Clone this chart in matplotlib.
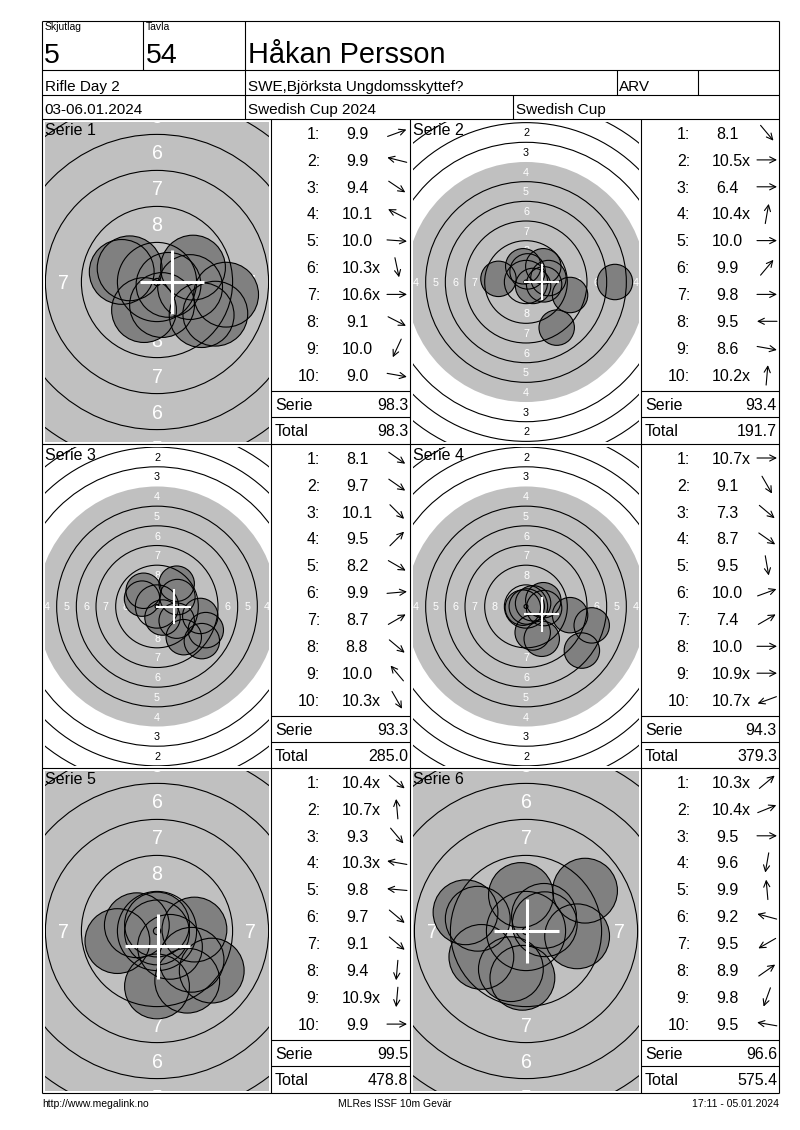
import matplotlib
matplotlib.use('Agg')
import matplotlib.pyplot as plt
from matplotlib.patches import Circle
import numpy as np

plt.rcParams['font.family'] = ['Liberation Sans', 'DejaVu Sans']

# ---------------- data ----------------
relay_label, relay = "Skjutlag", "5"
target_label, target_no = "Tavla", "54"
shooter = "Håkan Persson"
event = "Rifle Day 2"
club = "SWE,Björksta Ungdomsskyttef?"
shooter_class = "ARV"
dates = "03-06.01.2024"
competition = "Swedish Cup 2024"
cup = "Swedish Cup"
footer_left = "http://www.megalink.no"
footer_mid = "MLRes ISSF 10m Gevär"
footer_right = "17:11 - 05.01.2024"

series_names = ["Serie 1", "Serie 2", "Serie 3", "Serie 4", "Serie 5", "Serie 6"]

s1_scores = [9.9, 9.9, 9.4, 10.1, 10.0, 10.3, 10.6, 9.1, 10.0, 9.0]
s2_scores = [8.1, 10.5, 6.4, 10.4, 10.0, 9.9, 9.8, 9.5, 8.6, 10.2]
s3_scores = [8.1, 9.7, 10.1, 9.5, 8.2, 9.9, 8.7, 8.8, 10.0, 10.3]
s4_scores = [10.7, 9.1, 7.3, 8.7, 9.5, 10.0, 7.4, 10.0, 10.9, 10.7]
s5_scores = [10.4, 10.7, 9.3, 10.3, 9.8, 9.7, 9.1, 9.4, 10.9, 9.9]
s6_scores = [10.3, 10.4, 9.5, 9.6, 9.9, 9.2, 9.5, 8.9, 9.8, 9.5]

s1_inner = [0, 0, 0, 0, 0, 1, 1, 0, 0, 0]
s2_inner = [0, 1, 0, 1, 0, 0, 0, 0, 0, 1]
s3_inner = [0, 0, 0, 0, 0, 0, 0, 0, 0, 1]
s4_inner = [1, 0, 0, 0, 0, 0, 0, 0, 1, 1]
s5_inner = [1, 1, 0, 1, 0, 0, 0, 0, 1, 0]
s6_inner = [1, 1, 0, 0, 0, 0, 0, 0, 0, 0]

# direction arrows (degrees, counter-clockwise from right)
s1_dir = [20, 166, -34, 153, -4, -78, 0, -27, -115, -10]
s2_dir = [-50, 0, 0, 80, 0, 50, 0, 180, -10, 85]
s3_dir = [-35, -35, -45, 45, -30, 5, 30, -40, 130, -60]
s4_dir = [0, -60, -40, -35, -80, 20, 30, 0, 0, -160]
s5_dir = [-40, 95, -50, 170, 175, -40, -40, -95, -95, 0]
s6_dir = [40, 22, 0, -100, 95, 165, -150, 35, -110, 170]

# shot positions on the target (mm, y up)
s1_x = [2.5, -2.45, 3.1, -1.9, 2.3, 0.35, 0.8, 4.05, -0.9, 4.8]
s1_y = [1.0, 0.7, -2.3, 0.95, -0.35, -1.6, -0.2, -2.2, -1.95, -0.88]
s2_x = [3.9, 0.9, 11.3, 0.2, 2.3, 2.2, 2.85, -3.5, 5.6, -0.35]
s2_y = [-5.8, -0.5, 0.0, 1.35, -0.3, 2.0, 0.5, 0.4, -1.65, 2.0]
s3_x = [5.7, 2.5, -1.9, 2.5, 6.2, 2.6, 5.5, 3.4, -1.7, 0.7]
s3_y = [-4.4, -1.8, 1.0, 2.9, -3.0, 1.2, -1.2, -3.9, 2.0, -1.4]
s4_x = [0.9, 2.0, 7.1, 5.6, 0.85, 2.2, 8.35, 2.3, 0.1, -0.4]
s4_y = [0.4, -4.1, -5.6, -1.1, -3.3, 0.8, -2.4, -0.2, 0.0, -0.15]
s5_x = [0.9, 0.0, 2.1, -1.4, -2.75, 2.4, 3.8, 0.0, 0.0, 2.6]
s5_y = [-1.1, 0.45, -3.45, 0.4, -0.7, -2.0, -2.75, -3.85, -0.1, 0.1]
s6_x = [1.25, 1.3, 3.55, -0.25, -0.35, -4.2, -3.1, 4.1, -1.05, -3.35]
s6_y = [1.05, 0.47, -0.37, -3.25, 2.5, 1.3, -1.8, 2.8, -2.65, 0.85]

# mean point of impact crosses (mm)
mpi_x = [1.04, 2.0, 2.1, 2.0, 0.05, 0.05]
mpi_y = [0.0, 0.0, 0.0, -1.0, -1.05, 0.0]

# display zoom of each target (pixels per mm)
zoom = [14.4, 7.87, 7.87, 7.87, 14.4, 14.4]

scores = [s1_scores, s2_scores, s3_scores, s4_scores, s5_scores, s6_scores]
inners = [s1_inner, s2_inner, s3_inner, s4_inner, s5_inner, s6_inner]
dirs = [s1_dir, s2_dir, s3_dir, s4_dir, s5_dir, s6_dir]
shots_x = [s1_x, s2_x, s3_x, s4_x, s5_x, s6_x]
shots_y = [s1_y, s2_y, s3_y, s4_y, s5_y, s6_y]

# ISSF 10m air rifle target geometry (mm)
def ring_r(n):
    return 0.25 + (10 - n) * 2.5
BLACK_R = ring_r(4)
PELLET_R = 2.25
DOT_R = 0.25
GRAY = '#c0c0c0'
SHOT = '#808080'

W, H = 800, 1130
fig = plt.figure(figsize=(8, 11.3), dpi=100, facecolor='white')

def pt2px(pt):
    return pt * 100 / 72.0

# ---------------- targets ----------------
RX = [271, 641]
TOPS = [119, 444, 768]
BOTS = [444, 768, 1093]
col_x0 = [42, 410]
col_x1 = [271, 641]

def draw_target(k, rect):
    x0, y0, x1, y1 = rect
    s = zoom[k]
    tax = fig.add_axes([x0 / W, 1 - y1 / H, (x1 - x0) / W, (y1 - y0) / H])
    hw = (x1 - x0) / 2 / s
    hh = (y1 - y0) / 2 / s
    tax.set_xlim(-hw, hw)
    tax.set_ylim(-hh, hh)
    tax.set_axis_off()
    tax.add_patch(Circle((0, 0), BLACK_R, fc=GRAY, ec='none', zorder=1))
    fs = 0.98 * s
    cap = 0.358 * pt2px(fs) / s
    half_glyph_h = 0.45 * pt2px(fs) / s
    half_glyph_w = 0.3 * pt2px(fs) / s
    for n in range(1, 9):
        r = ring_r(n) - 1.25
        c = 'white' if n >= 4 else 'black'
        for (px, py) in [(0, r), (0, -r), (-r, 0), (r, 0)]:
            if abs(py) - half_glyph_h > hh or abs(px) - half_glyph_w > hw:
                continue
            tax.text(px, py - cap, str(n), ha='center', va='baseline',
                     fontsize=fs, color=c, zorder=2, clip_on=True)
    tax.add_patch(Circle((0, 0), DOT_R, fc='white', ec='none', zorder=2.5))
    for x, y in zip(shots_x[k], shots_y[k]):
        tax.add_patch(Circle((x, y), PELLET_R, fc=SHOT, ec='none', zorder=3))
    for n in [1, 2, 3, 5, 6, 7, 8, 9]:
        tax.add_patch(Circle((0, 0), ring_r(n), fc='none', ec='black', lw=0.8, zorder=4))
    tax.add_patch(Circle((0, 0), DOT_R, fc='none', ec='black', lw=0.8, zorder=4))
    for x, y in zip(shots_x[k], shots_y[k]):
        tax.add_patch(Circle((x, y), PELLET_R, fc='none', ec='black', lw=0.8, zorder=5))
    lw = 2.2 if s > 10 else 1.5
    mx, my = mpi_x[k], mpi_y[k]
    tax.plot([mx - PELLET_R, mx + PELLET_R], [my, my], color='white', lw=lw,
             zorder=6, solid_capstyle='butt')
    tax.plot([mx, mx], [my - PELLET_R, my + PELLET_R], color='white', lw=lw,
             zorder=6, solid_capstyle='butt')

for k in range(6):
    row, col = divmod(k, 2)
    rect = (col_x0[col] + 3, TOPS[row] + 3, col_x1[col] - 2, BOTS[row] - 2)
    draw_target(k, rect)

# ---------------- overlay: frame, header, tables ----------------
ax = fig.add_axes([0, 0, 1, 1], zorder=10)
ax.set_xlim(0, W)
ax.set_ylim(H, 0)
ax.set_axis_off()

LW = 0.8
def hline(y, xa, xb):
    ax.plot([xa, xb], [y, y], color='black', lw=LW, solid_capstyle='butt')
def vline(x, ya, yb):
    ax.plot([x, x], [ya, yb], color='black', lw=LW, solid_capstyle='butt')

def txt(x, yc, s, size, ha='left', color='black'):
    ax.text(x, yc + 0.358 * pt2px(size), s, ha=ha, va='baseline', fontsize=size, color=color)

# frame
for y in [21, 70, 95, 119, 444, 768, 1093]:
    hline(y, 42, 779)
vline(42, 21, 1093)
vline(779, 21, 1093)
vline(143, 21, 70)
vline(245, 21, 119)
vline(617, 70, 95)
vline(698, 70, 95)
vline(513, 95, 119)
for x in [271, 410, 641]:
    vline(x, 119, 1093)

# header text
ax.text(45, 30.5, relay_label, fontsize=7.5, va='baseline')
ax.text(146, 30.5, target_label, fontsize=7.5, va='baseline')
ax.text(44, 63, relay, fontsize=20.5, va='baseline')
ax.text(146, 63, target_no, fontsize=20.5, va='baseline')
ax.text(248, 63, shooter, fontsize=20.8, va='baseline')
ax.text(45, 91, event, fontsize=11, va='baseline')
ax.text(248, 91, club, fontsize=11, va='baseline')
ax.text(619, 91, shooter_class, fontsize=11, va='baseline')
ax.text(44, 114, dates, fontsize=11, va='baseline')
ax.text(248, 114, competition, fontsize=11, va='baseline')
ax.text(516, 114, cup, fontsize=11, va='baseline')

# tables
TS = 11.5
total = 0.0
for k in range(6):
    row, col = divmod(k, 2)
    top = TOPS[row]
    tx0 = RX[col]
    tx1 = 410 if col == 0 else 779
    hline(top + 272, tx0, tx1)
    hline(top + 298, tx0, tx1)
    # serie label on the target
    txt(col_x0[col] + 3, top + 10, series_names[k], TS)
    for i in range(10):
        yc = top + 14 + i * 26.9
        txt(tx0 + 49, yc, f"{i + 1}:", TS, ha='right')
        txt(tx0 + 86, yc, f"{scores[k][i]:.1f}", TS, ha='center')
        if inners[k][i]:
            txt(tx0 + 100.5, yc, "x", TS)
        a = np.deg2rad(dirs[k][i])
        cx, cy = tx0 + 126, yc
        dx, dy = 10 * np.cos(a), -10 * np.sin(a)
        ax.annotate('', xy=(cx + dx, cy + dy), xytext=(cx - dx, cy - dy),
                    arrowprops=dict(arrowstyle='->', lw=0.8, color='black',
                                    shrinkA=0, shrinkB=0, mutation_scale=11))
    ser = round(sum(scores[k]), 1)
    total = round(total + ser, 1)
    txt(tx0 + 4, top + 285, "Serie", TS)
    txt(tx1 - 2, top + 285, f"{ser:.1f}", TS, ha='right')
    txt(tx0 + 4, top + 311, "Total", TS)
    txt(tx1 - 2, top + 311, f"{total:.1f}", TS, ha='right')

# footer
txt(42, 1103, footer_left, 7.5)
txt(395, 1103, footer_mid, 7.5, ha='center')
txt(779, 1103, footer_right, 7.5, ha='right')

fig.savefig('out.png', dpi=100, facecolor='white')
